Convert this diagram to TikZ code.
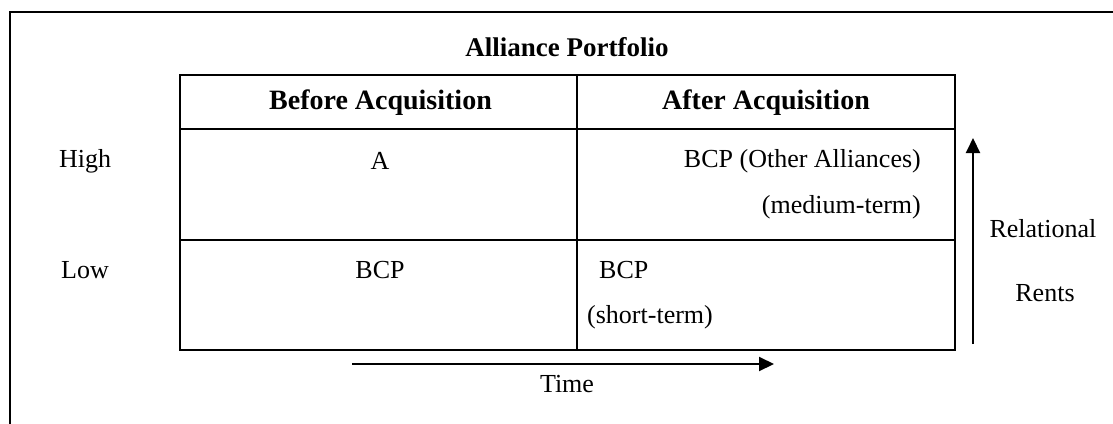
\documentclass[tikz,border=0pt]{standalone}
\usepackage{fontspec}
\setmainfont{Liberation Serif}
\usetikzlibrary{arrows.meta}
\begin{document}
\begin{tikzpicture}[x=1pt,y=-1pt,
  frameline/.style={line width=2.5pt},
  gridline/.style={line width=2.5pt},
  axisarrow/.style={line width=2pt,-{Triangle[length=15pt,width=14pt]}},
  txt/.style={inner sep=0pt,font=\fontsize{26}{31}\selectfont},
  head/.style={inner sep=0pt,font=\fontsize{28}{33}\selectfont\bfseries},
  titletxt/.style={inner sep=0pt,font=\fontsize{27}{32}\selectfont\bfseries}]
\useasboundingbox (0,0) rectangle (1113,423);
% outer frame (cropped)
\draw[frameline] (10,424) -- (10,12) -- (1114,12);
% table
\draw[gridline] (180,75) rectangle (955,350);
\draw[gridline] (180,129) -- (955,129);
\draw[gridline] (180,240) -- (955,240);
\draw[gridline] (577,75) -- (577,350);
% texts
\node[titletxt] (title) at (567,47) {Alliance Portfolio};
\node[head] (before) at (380.5,103) {Before Acquisition};
\node[head] (after) at (766,103) {After Acquisition};
\node[txt] (high) at (85,161) {High};
\node[txt] (low) at (85,270) {Low};
\node[txt] (a) at (380,161) {A};
\node[txt] (bcp1) at (380,270) {BCP};
\node[txt,anchor=east] (bcpo) at (921,161) {BCP (Other Alliances)};
\node[txt,anchor=east] (med) at (921,207) {(medium-term)};
\node[txt,anchor=west] (bcp2) at (599,270) {BCP};
\node[txt,anchor=west] (short) at (587,317) {(short-term)};
\node[txt] (rel) at (1043,229) {Relational};
\node[txt] (rents) at (1045,293) {Rents};
\node[txt] (time) at (567,384) {Time};
% arrows
\coordinate (t0) at (352,364);
\coordinate (t1) at (774,364);
\coordinate (r0) at (973,344);
\coordinate (r1) at (973,138);
\draw[axisarrow] (t0) -- (t1);
\draw[axisarrow] (r0) -- (r1);
\end{tikzpicture}
\end{document}
